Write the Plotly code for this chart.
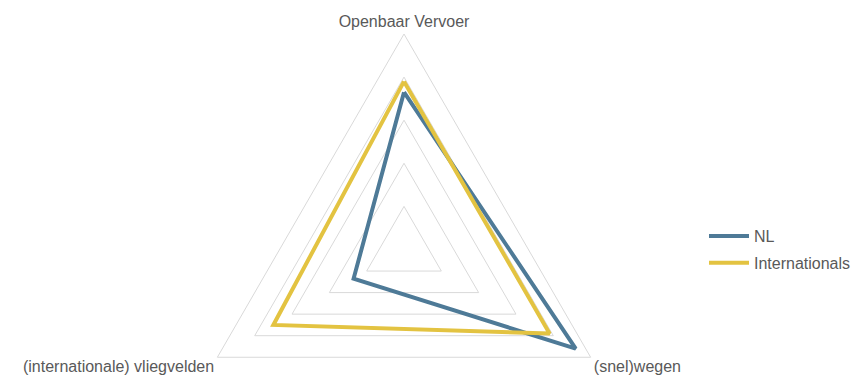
import plotly.graph_objects as go

# --- data (scores on a 0-100 scale) ---
categories = ['Openbaar Vervoer', '(snel)wegen', '(internationale) vliegvelden']
series_names = ['NL', 'Internationals']
nl_scores = [73, 92, 27]
intl_scores = [78, 78, 70]
grid_ticks = [20, 40, 60, 80, 100]

series_colors = ['#4E7A97', '#E3C341']
text_color = '#595959'
grid_color = '#D9D9D9'

# the page body adds an 8px margin, so everything is placed 8px up/left
OFF = 8
W = 865 - OFF
TOP = 34 - OFF
R = 215.5
H = int(TOP + 2 * R)
CX = 404 - OFF

fig = go.Figure()

for name, scores, color in zip(series_names, [nl_scores, intl_scores], series_colors):
    fig.add_trace(go.Scatterpolar(
        r=scores + scores[:1],
        theta=categories + categories[:1],
        mode='lines',
        name=name,
        legendgroup=name,
        line=dict(color=color, width=4),
        hoverinfo='name+r+theta',
    ))

fig.update_layout(
    width=W,
    height=H,
    margin=dict(l=0, r=0, t=TOP, b=0),
    paper_bgcolor='white',
    font=dict(family='Arial', size=16, color=text_color),
    polar=dict(
        domain=dict(x=[(CX - R) / W, (CX + R) / W], y=[0, 1]),
        gridshape='linear',
        bgcolor='white',
        radialaxis=dict(
            range=[0, 100],
            tickvals=grid_ticks,
            showticklabels=False,
            ticks='',
            showline=False,
            gridcolor=grid_color,
            gridwidth=1,
        ),
        angularaxis=dict(
            direction='clockwise',
            rotation=90,
            showgrid=False,
            showline=True,
            linecolor=grid_color,
            linewidth=1,
            ticks='',
            tickfont=dict(family='Arial', size=16, color=text_color),
        ),
    ),
    legend=dict(
        x=(704 - OFF) / W,
        y=1 - (249.5 - 34) / (H - TOP),
        xanchor='left',
        yanchor='middle',
        itemwidth=40,
        traceorder='grouped',
        tracegroupgap=3,
        font=dict(family='Arial', size=16, color=text_color),
        bgcolor='rgba(0,0,0,0)',
    ),
    showlegend=True,
)

fig.write_html('out.html')
